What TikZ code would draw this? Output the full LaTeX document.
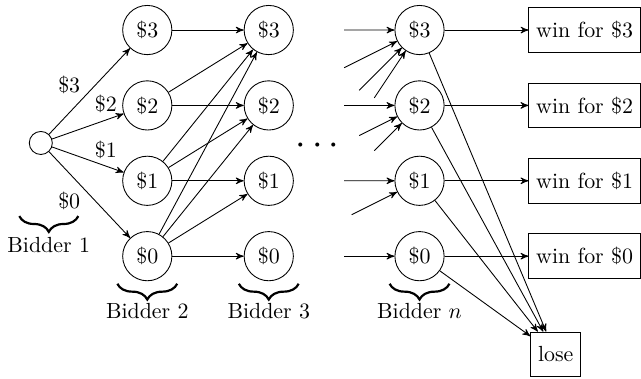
\documentclass[tikz,border=0pt]{standalone}
\usepackage{tikz}
\usetikzlibrary{arrows,calc,decorations.pathreplacing}

\tikzset{bid/.style={circle,draw,minimum size=0.79cm,inner sep=0pt},
  start/.style={circle,draw,minimum size=0.37cm,inner sep=0pt},
  outcome/.style={rectangle,draw,minimum height=0.72cm},
  bidbrace/.style={-,decorate,decoration={brace,mirror,amplitude=7.2pt},line width=1pt}}

\begin{document}
\begin{tikzpicture}[->,>=stealth',node distance=1.21cm]
  \useasboundingbox (0,0) rectangle (10.289,-6.083);

  % bidder 1 and 2
  \node[start] (O) at (0.655,-2.295) {};
  \node[bid] (b23) at (2.364,-0.482) {\$3};
  \node[bid] (b22) [below of=b23] {\$2};
  \node[bid] (b21) [below of=b22] {\$1};
  \node[bid] (b20) [below of=b21] {\$0};

  % bidder 3
  \node[bid] (b33) [right of=b23, node distance=1.95cm] {\$3};
  \node[bid] (b32) [below of=b33] {\$2};
  \node[bid] (b31) [below of=b32] {\$1};
  \node[bid] (b30) [below of=b31] {\$0};

  % bidder n
  \node[bid] (bn3) [right of=b33, node distance=2.42cm] {\$3};
  \node[bid] (bn2) [below of=bn3] {\$2};
  \node[bid] (bn1) [below of=bn2] {\$1};
  \node[bid] (bn0) [below of=bn1] {\$0};

  % outcomes
  \node[outcome] (w3) [right of=bn3, node distance=2.65cm] {win for \$3};
  \node[outcome] (w2) [right of=bn2, node distance=2.65cm] {win for \$2};
  \node[outcome] (w1) [right of=bn1, node distance=2.65cm] {win for \$1};
  \node[outcome] (w0) [right of=bn0, node distance=2.65cm] {win for \$0};
  \node[outcome] (lose) at (8.921,-5.690) {lose};

  \node (dots) at (5.096,-2.35) {\LARGE$\cdots$};

  % braces under the bidders
  \draw[bidbrace] (0.310,-3.469) -- (1.257,-3.469);
  \node (lbl1) at (0.782,-3.941) {Bidder 1};
  \draw[bidbrace] ($(b20)+(-0.48,-0.443)$) -- ($(b20)+(0.48,-0.443)$);
  \node (lbl2) at ($(b20)+(0,-0.884)$) {Bidder 2};
  \draw[bidbrace] ($(b30)+(-0.48,-0.443)$) -- ($(b30)+(0.48,-0.443)$);
  \node (lbl3) at ($(b30)+(0,-0.884)$) {Bidder 3};
  \draw[bidbrace] ($(bn0)+(-0.48,-0.443)$) -- ($(bn0)+(0.48,-0.443)$);
  \node (lbln) at ($(bn0)+(0,-0.884)$) {Bidder $n$};

  \path (O) edge node[pos=0.43,above left,inner sep=1.5pt] {\$3} (b23)
            edge node[pos=0.75,above] {\$2} (b22)
            edge node[pos=0.75,above] {\$1} (b21)
            edge node[pos=0.43,below left,inner sep=1.5pt] {\$0} (b20);

  \path (b23) edge (b33)
        (b22) edge (b33)
              edge (b32)
        (b21) edge (b33)
              edge (b32)
              edge (b31)
        (b20) edge (b33)
              edge (b32)
              edge (b31)
              edge (b30);

  % cut-off edges into bidder n
  \coordinate (s33) at ($(b33)!0.5!(bn3)$);
  \coordinate (s23) at ($(b32)!0.5!(bn3)$);
  \coordinate (s13) at ($(b31)!0.6!(bn3)$);
  \coordinate (s03) at ($(b30)!0.7!(bn3)$);
  \coordinate (s22) at ($(b32)!0.5!(bn2)$);
  \coordinate (s12) at ($(b31)!0.6!(bn2)$);
  \coordinate (s02) at ($(b30)!0.7!(bn2)$);
  \coordinate (s11) at ($(b31)!0.5!(bn1)$);
  \coordinate (s01) at ($(b30)!0.55!(bn1)$);
  \coordinate (s00) at ($(b30)!0.5!(bn0)$);

  \path (s33) edge (bn3)
        (s23) edge (bn3)
        (s13) edge (bn3)
        (s03) edge (bn3)
        (s22) edge (bn2)
        (s12) edge (bn2)
        (s02) edge (bn2)
        (s11) edge (bn1)
        (s01) edge (bn1)
        (s00) edge (bn0);

  \path (bn3) edge (w3)
              edge (lose)
        (bn2) edge (w2)
              edge (lose)
        (bn1) edge (w1)
              edge (lose)
        (bn0) edge (w0)
              edge (lose);
\end{tikzpicture}
\end{document}
